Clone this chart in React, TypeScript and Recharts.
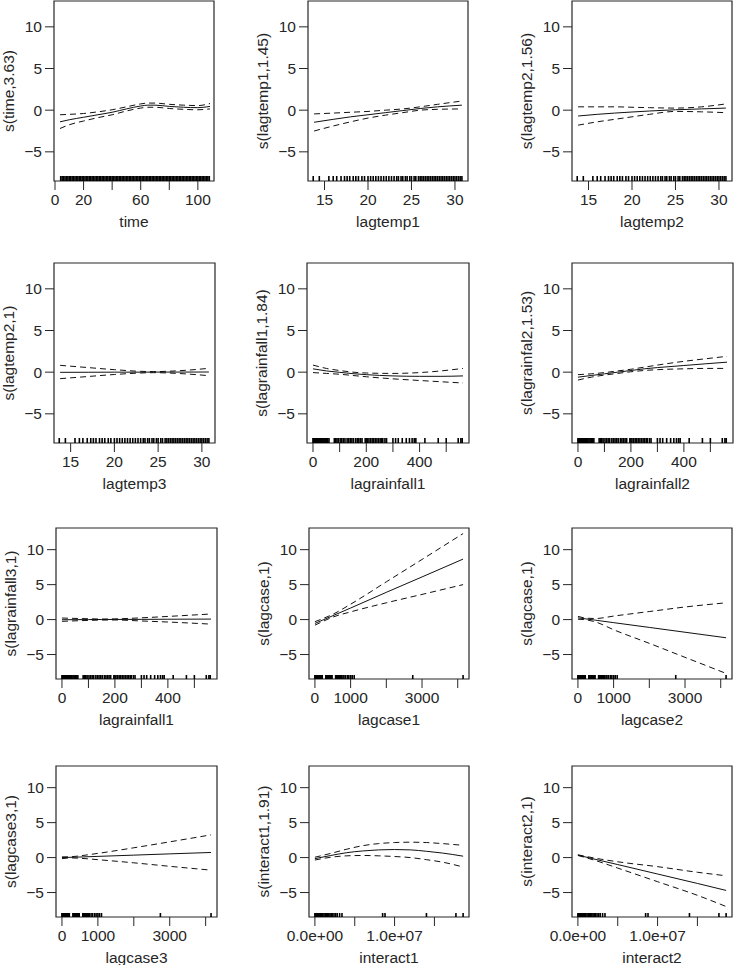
import React from 'react';
import { ComposedChart, Line, Scatter, XAxis, YAxis, ReferenceArea } from 'recharts';

// ---------- shared y axis ----------
const Y_MIN = -8.5;
const Y_MAX = 13.1;
const yTicks = [-5, 0, 5, 10];
const yTickLabels = ['−5', '0', '5', '10'];

// ---------- x ticks ----------
const timeTicks = [0, 20, 40, 60, 80, 100];
const timeTickLabels = ['0', '20', '', '60', '', '100'];
const tempTicks = [15, 20, 25, 30];
const tempTickLabels = ['15', '20', '25', '30'];
const rainTicks = [0, 100, 200, 300, 400, 500];
const rainTickLabels = ['0', '', '200', '', '400', ''];
const caseTicks = [0, 1000, 2000, 3000, 4000];
const caseTickLabels = ['0', '1000', '', '3000', ''];
const interTicks = [0, 5e6, 1e7, 1.5e7];
const interTickLabels = ['0.0e+00', '', '1.0e+07', ''];

// ---------- x domains ----------
const timeDomain = [-0.7, 111.3];
const tempDomain = [13.1, 31.5];
const rainDomain = [-22.5, 585.5];
const caseDomain = [-166, 4316];
const interDomain = [-7.4e5, 1.934e7];

// ---------- rugs ----------
const timeRug = [4,5,6,7,8,9,10,11,12,13,14,15,16,17,18,19,20,21,22,23,24,25,26,27,28,29,30,31,32,33,34,35,36,37,38,39,40,41,42,43,44,45,46,47,48,49,50,51,52,53,54,55,56,57,58,59,60,61,62,63,64,65,66,67,68,69,70,71,72,73,74,75,76,77,78,79,80,81,82,83,84,85,86,87,88,89,90,91,92,93,94,95,96,97,98,99,100,101,102,103,104,105,106,107,108];
const tempRug = [13.7, 14.4, 15.5, 16.0, 16.4, 16.9, 17.3, 17.6, 17.9, 18.3, 18.6, 18.9, 19.3, 19.6, 20.0, 20.3, 20.6, 20.9, 21.2, 21.5, 21.8, 22.1, 22.4, 22.7, 23.0, 23.3, 23.5, 23.8, 24.0, 24.3, 24.5, 24.8, 25.0, 25.3, 25.5, 25.8, 26.0, 26.2, 26.4, 26.6, 26.8, 27.0, 27.2, 27.4, 27.6, 27.8, 28.0, 28.2, 28.4, 28.6, 28.8, 29.0, 29.2, 29.4, 29.6, 29.8, 30.0, 30.2, 30.4, 30.6, 30.8];
const rainRug = [0, 2, 4, 6, 8, 10, 12, 14, 16, 18, 20, 23, 26, 29, 32, 35, 38, 42, 46, 50, 55, 60, 80, 85, 90, 95, 102, 108, 114, 120, 128, 134, 140, 146, 152, 160, 166, 172, 178, 184, 196, 200, 204, 210, 216, 222, 228, 234, 240, 246, 252, 258, 262, 270, 276, 300, 310, 320, 335, 350, 362, 372, 380, 386, 420, 470, 500, 545, 555, 560];
const caseRug = [0, 10, 20, 30, 40, 50, 60, 70, 80, 90, 100, 115, 130, 145, 160, 175, 190, 205, 305, 320, 340, 360, 380, 400, 420, 440, 460, 480, 580, 600, 620, 640, 660, 680, 700, 720, 740, 760, 810, 850, 905, 950, 1000, 1045, 1100, 2740, 4150];
const interRug = [0, 1e5, 2e5, 3e5, 4e5, 5e5, 6e5, 7e5, 8e5, 9e5, 1e6, 1.15e6, 1.3e6, 1.45e6, 1.6e6, 1.75e6, 1.9e6, 2.05e6, 2.2e6, 2.4e6, 2.6e6, 2.8e6, 3.1e6, 3.4e6, 8.5e6, 8.8e6, 1.4e7, 1.77e7, 1.86e7];

// ---------- smooth terms: x, fit, upper, lower ----------
const timeX = [3.5, 10, 20, 30, 40, 50, 60, 65, 70, 80, 90, 100, 108.5];
const timeFit = [-1.4, -1.15, -0.85, -0.55, -0.25, 0.15, 0.5, 0.6, 0.6, 0.45, 0.35, 0.3, 0.45];
const timeUp = [-0.55, -0.5, -0.4, -0.2, 0.05, 0.4, 0.75, 0.85, 0.85, 0.7, 0.6, 0.55, 0.8];
const timeLo = [-2.2, -1.75, -1.3, -0.9, -0.55, -0.1, 0.25, 0.35, 0.35, 0.2, 0.1, 0.05, 0.15];

const t1X = [13.8, 16, 18, 20, 22, 24, 26, 28, 30.8];
const t1Fit = [-1.45, -1.1, -0.8, -0.55, -0.3, -0.05, 0.2, 0.4, 0.6];
const t1Up = [-0.45, -0.35, -0.25, -0.15, 0.0, 0.15, 0.4, 0.7, 1.1];
const t1Lo = [-2.5, -1.9, -1.4, -0.95, -0.6, -0.3, 0.0, 0.1, 0.15];

const t2X = [13.8, 16, 18, 20, 22, 25, 28, 30.8];
const t2Fit = [-0.7, -0.5, -0.35, -0.22, -0.1, 0.05, 0.15, 0.25];
const t2Up = [0.4, 0.4, 0.4, 0.35, 0.3, 0.25, 0.4, 0.75];
const t2Lo = [-1.8, -1.4, -1.1, -0.8, -0.5, -0.15, -0.2, -0.3];

const t3X = [13.8, 17, 20, 23, 24.5, 27, 30.8];
const t3Fit = [-0.02, -0.01, 0, 0, 0.01, 0.01, 0.02];
const t3Up = [0.82, 0.55, 0.3, 0.1, 0.07, 0.15, 0.46];
const t3Lo = [-0.78, -0.52, -0.28, -0.1, -0.06, -0.14, -0.42];

const r1X = [0, 50, 100, 150, 200, 300, 400, 480, 563];
const r1Fit = [0.4, 0.15, -0.02, -0.18, -0.3, -0.45, -0.5, -0.5, -0.45];
const r1Up = [0.85, 0.45, 0.2, 0.0, -0.1, -0.15, -0.05, 0.15, 0.45];
const r1Lo = [-0.05, -0.15, -0.25, -0.4, -0.55, -0.8, -1.0, -1.15, -1.3];

const r2X = [0, 50, 100, 150, 200, 250, 300, 400, 480, 563];
const r2Fit = [-0.6, -0.4, -0.2, 0.0, 0.2, 0.4, 0.55, 0.8, 1.0, 1.2];
const r2Up = [-0.3, -0.2, -0.05, 0.15, 0.35, 0.6, 0.85, 1.3, 1.6, 1.9];
const r2Lo = [-0.95, -0.6, -0.35, -0.15, 0.05, 0.2, 0.3, 0.4, 0.45, 0.45];

const r3X = [0, 100, 150, 200, 300, 400, 563];
const r3Fit = [-0.02, 0.0, 0.01, 0.02, 0.03, 0.05, 0.07];
const r3Up = [0.22, 0.12, 0.08, 0.1, 0.25, 0.45, 0.8];
const r3Lo = [-0.25, -0.12, -0.07, -0.06, -0.2, -0.35, -0.65];

const c1X = [0, 250, 500, 1000, 2000, 3000, 4150];
const c1Fit = [-0.55, 0.0, 0.55, 1.65, 3.9, 6.1, 8.65];
const c1Up = [-0.3, 0.2, 0.75, 2.2, 5.4, 8.6, 12.3];
const c1Lo = [-0.8, -0.2, 0.35, 1.1, 2.4, 3.6, 5.0];

const c2X = [0, 250, 500, 1000, 2000, 3000, 4150];
const c2Fit = [0.25, 0.08, -0.09, -0.44, -1.12, -1.81, -2.6];
const c2Up = [0.45, 0.2, 0.15, 0.5, 1.15, 1.8, 2.4];
const c2Lo = [0.05, -0.05, -0.35, -1.45, -3.4, -5.4, -7.7];

const c3X = [0, 250, 500, 1000, 2000, 3000, 4150];
const c3Fit = [0.0, 0.04, 0.08, 0.17, 0.35, 0.53, 0.73];
const c3Up = [0.1, 0.12, 0.25, 0.6, 1.4, 2.25, 3.25];
const c3Lo = [-0.15, -0.05, -0.1, -0.3, -0.75, -1.25, -1.8];

const i1X = [0, 2e6, 4e6, 6e6, 8e6, 1e7, 1.2e7, 1.4e7, 1.6e7, 1.86e7];
const i1Fit = [-0.15, 0.3, 0.7, 0.95, 1.1, 1.15, 1.1, 0.9, 0.65, 0.2];
const i1Up = [0.05, 0.6, 1.2, 1.7, 2.0, 2.15, 2.2, 2.15, 2.0, 1.75];
const i1Lo = [-0.35, 0.05, 0.25, 0.3, 0.25, 0.15, 0.0, -0.3, -0.65, -1.35];

const i2X = [0, 2e6, 5e6, 1e7, 1.5e7, 1.86e7];
const i2Fit = [0.35, -0.2, -1.0, -2.35, -3.7, -4.7];
const i2Up = [0.4, -0.05, -0.6, -1.3, -2.1, -2.6];
const i2Lo = [0.3, -0.35, -1.5, -3.45, -5.4, -7.0];

// ---------- panels ----------
const panels = [
  { ylab: 's(time,3.63)', xlab: 'time', x: timeX, fit: timeFit, up: timeUp, lo: timeLo, rug: timeRug, ticks: timeTicks, labels: timeTickLabels, domain: timeDomain },
  { ylab: 's(lagtemp1,1.45)', xlab: 'lagtemp1', x: t1X, fit: t1Fit, up: t1Up, lo: t1Lo, rug: tempRug, ticks: tempTicks, labels: tempTickLabels, domain: tempDomain },
  { ylab: 's(lagtemp2,1.56)', xlab: 'lagtemp2', x: t2X, fit: t2Fit, up: t2Up, lo: t2Lo, rug: tempRug, ticks: tempTicks, labels: tempTickLabels, domain: tempDomain },
  { ylab: 's(lagtemp2,1)', xlab: 'lagtemp3', x: t3X, fit: t3Fit, up: t3Up, lo: t3Lo, rug: tempRug, ticks: tempTicks, labels: tempTickLabels, domain: tempDomain },
  { ylab: 's(lagrainfall1,1.84)', xlab: 'lagrainfall1', x: r1X, fit: r1Fit, up: r1Up, lo: r1Lo, rug: rainRug, ticks: rainTicks, labels: rainTickLabels, domain: rainDomain },
  { ylab: 's(lagrainfal2,1.53)', xlab: 'lagrainfall2', x: r2X, fit: r2Fit, up: r2Up, lo: r2Lo, rug: rainRug, ticks: rainTicks, labels: rainTickLabels, domain: rainDomain },
  { ylab: 's(lagrainfall3,1)', xlab: 'lagrainfall1', x: r3X, fit: r3Fit, up: r3Up, lo: r3Lo, rug: rainRug, ticks: rainTicks, labels: rainTickLabels, domain: rainDomain },
  { ylab: 's(lagcase,1)', xlab: 'lagcase1', x: c1X, fit: c1Fit, up: c1Up, lo: c1Lo, rug: caseRug, ticks: caseTicks, labels: caseTickLabels, domain: caseDomain },
  { ylab: 's(lagcase,1)', xlab: 'lagcase2', x: c2X, fit: c2Fit, up: c2Up, lo: c2Lo, rug: caseRug, ticks: caseTicks, labels: caseTickLabels, domain: caseDomain },
  { ylab: 's(lagcase3,1)', xlab: 'lagcase3', x: c3X, fit: c3Fit, up: c3Up, lo: c3Lo, rug: caseRug, ticks: caseTicks, labels: caseTickLabels, domain: caseDomain },
  { ylab: 's(interact1,1.91)', xlab: 'interact1', x: i1X, fit: i1Fit, up: i1Up, lo: i1Lo, rug: interRug, ticks: interTicks, labels: interTickLabels, domain: interDomain },
  { ylab: 's(interact2,1)', xlab: 'interact2', x: i2X, fit: i2Fit, up: i2Up, lo: i2Lo, rug: interRug, ticks: interTicks, labels: interTickLabels, domain: interDomain },
];

// plot boxes [left, top, width, height] in page pixels
const boxes = [
  [54, 1, 160, 180], [308, 1, 160, 180], [572, 1, 160, 180],
  [54, 263, 161, 180], [307, 263, 162, 180], [572, 263, 161, 180],
  [56, 528, 161, 151], [309, 528, 160, 151], [572, 528, 160, 151],
  [56, 766, 161, 151], [309, 766, 160, 151], [572, 766, 160, 151],
];

const INK = '#262626';
const FONT = 15.5;
const AXIS_W = 60;
const XAXIS_H = 52;
const MT = 4;
const MR = 2;

function PanelChart({ p, box }: any) {
  const [left, top, w, h] = box;
  const data = p.x.map((x: number, i: number) => ({ x, fit: p.fit[i], up: p.up[i], lo: p.lo[i] }));
  const rugData = p.rug.map((x: number) => ({ x, r: Y_MIN }));
  const W = AXIS_W + w + MR;
  const H = MT + h + XAXIS_H;
  const rugLen = Math.round(h * 0.028);

  const xTick = (props: any) => {
    const i = p.ticks.indexOf(props.payload.value);
    const lab = i >= 0 ? p.labels[i] : '';
    return (
      <text x={props.x} y={props.y} dy="0.71em" textAnchor="middle" fontSize={FONT} fill={INK}>
        {lab}
      </text>
    );
  };
  const yTick = (props: any) => {
    const i = yTicks.indexOf(props.payload.value);
    return (
      <text x={props.x} y={props.y} dy="0.36em" textAnchor="end" fontSize={FONT} fill={INK}>
        {yTickLabels[i]}
      </text>
    );
  };
  const rugShape = (props: any) => (
    <line x1={props.cx} x2={props.cx} y1={props.cy} y2={props.cy - rugLen} stroke="#000" strokeWidth={1.6} />
  );

  return (
    <div style={{ position: 'absolute', left: left - AXIS_W, top: top - MT, width: W, height: H }}>
      <ComposedChart width={W} height={H} data={data} margin={{ top: MT, right: MR, bottom: 0, left: 0 }}>
        <XAxis
          dataKey="x"
          type="number"
          domain={p.domain}
          ticks={p.ticks}
          interval={0}
          allowDataOverflow
          height={XAXIS_H}
          tickSize={9}
          tickMargin={4}
          axisLine={false}
          tickLine={{ stroke: INK, strokeWidth: 1 }}
          tick={xTick}
          label={{ value: p.xlab, position: 'insideBottom', offset: 6, style: { fontSize: FONT, fill: INK } }}
        />
        <YAxis
          type="number"
          domain={[Y_MIN, Y_MAX]}
          ticks={yTicks}
          interval={0}
          allowDataOverflow
          width={AXIS_W}
          tickSize={9}
          tickMargin={3}
          axisLine={false}
          tickLine={{ stroke: INK, strokeWidth: 1 }}
          tick={yTick}
          label={{ value: p.ylab, angle: -90, position: 'insideLeft', offset: 14, style: { textAnchor: 'middle', fontSize: FONT, fill: INK } }}
        />
        <ReferenceArea x1={p.domain[0]} x2={p.domain[1]} y1={Y_MIN} y2={Y_MAX} fill="none" fillOpacity={0} stroke={INK} strokeWidth={1.2} ifOverflow="visible" />
        <Line dataKey="fit" type="monotone" stroke="#111" strokeWidth={1} dot={false} isAnimationActive={false} />
        <Line dataKey="up" type="monotone" stroke="#111" strokeWidth={1} strokeDasharray="6 4" dot={false} isAnimationActive={false} />
        <Line dataKey="lo" type="monotone" stroke="#111" strokeWidth={1} strokeDasharray="6 4" dot={false} isAnimationActive={false} />
        <Scatter data={rugData} dataKey="r" shape={rugShape} isAnimationActive={false} />
      </ComposedChart>
    </div>
  );
}

export default function App() {
  return (
    <div
      style={{
        position: 'absolute',
        left: 0,
        top: 0,
        width: 734,
        height: 965,
        background: '#fff',
        overflow: 'hidden',
        fontFamily: '"Liberation Sans", Arial, Helvetica, sans-serif',
      }}
    >
      {panels.map((p, i) => (
        <PanelChart key={i} p={p} box={boxes[i]} />
      ))}
    </div>
  );
}
